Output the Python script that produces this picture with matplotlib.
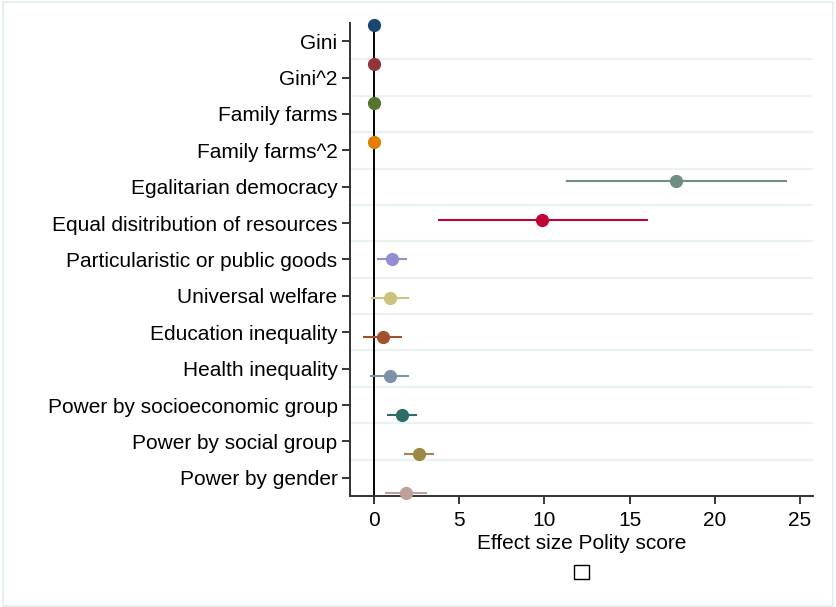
import numpy as np
import matplotlib.pyplot as plt
from matplotlib.patches import Patch, Rectangle

plt.rcParams['font.family'] = ['Liberation Sans', 'DejaVu Sans']

# coefficient estimates with 95% confidence bounds
labels = ['Gini', 'Gini^2', 'Family farms', 'Family farms^2',
          'Egalitarian democracy', 'Equal disitribution of resources',
          'Particularistic or public goods', 'Universal welfare',
          'Education inequality', 'Health inequality',
          'Power by socioeconomic group', 'Power by social group',
          'Power by gender']
coef = [0.0, 0.0, 0.0, 0.0, 17.72, 9.86, 1.03, 0.93, 0.50, 0.91, 1.64, 2.63, 1.87]
lower = [0.0, 0.0, 0.0, 0.0, 11.33, 3.81, 0.24, -0.12, -0.58, -0.17, 0.82, 1.81, 0.69]
upper = [0.0, 0.0, 0.0, 0.0, 24.18, 16.02, 1.86, 2.00, 1.60, 2.00, 2.49, 3.47, 3.02]

# stata s2color palette
colors = ['#1a476f', '#90353b', '#55752f', '#e37e00', '#6e8e84', '#c10534',
          '#938dd2', '#cac27e', '#a0522d', '#7b92a8', '#2d6d66', '#9c8847',
          '#bfa19c']

fig = plt.figure(figsize=(8.36, 6.07), dpi=100)
ax = fig.add_axes([0.4187, 0.1829, 0.9725 - 0.4187, 0.9621 - 0.1829])

n = len(labels)
pos = np.arange(1, n + 1)
top, bottom = 0.949, 13.077
ax.set_ylim(bottom, top)
ax.set_xlim(-1.41, 25.76)

band = (bottom - top) / n
for k in range(1, n):
    ax.axhline(top + k * band, color='#eaf2f3', lw=1.6, zorder=0)

ax.axvline(0, color='black', lw=1.4, zorder=1)

for i in range(n):
    ax.plot([lower[i], upper[i]], [pos[i], pos[i]], color=colors[i], lw=1.5, zorder=2)
    ax.plot(coef[i], pos[i], 'o', color=colors[i], ms=8.5, zorder=3, clip_on=False)

ax.set_yticks(top + (np.arange(n) + 0.5) * band)
ax.set_yticklabels(labels, fontsize=15)
ax.set_xticks([0, 5, 10, 15, 20, 25])
ax.tick_params(axis='both', labelsize=15, length=6, width=1.1, color='black')
ax.tick_params(axis='y', pad=3)
ax.tick_params(axis='x', pad=5)
ax.set_xlabel('Effect size Polity score', fontsize=15, labelpad=3)

for s in ['top', 'right']:
    ax.spines[s].set_visible(False)
for s in ['left', 'bottom']:
    ax.spines[s].set_color('#333333')
    ax.spines[s].set_linewidth(1.4)

# empty legend key under the axis title
ax.legend(handles=[Patch(facecolor='white', edgecolor='black', lw=1.0)], labels=[''],
          loc='center', bbox_to_anchor=(0.5, -0.162), frameon=False,
          handlelength=1.1, handleheight=1.1, handletextpad=0, borderpad=0)

# graph region outline
fig.patches.append(Rectangle((0.004, 0.002), 0.993, 0.994, transform=fig.transFigure,
                             fill=False, edgecolor='#e6eeee', lw=1.5))

fig.savefig('out.png', dpi=100)
